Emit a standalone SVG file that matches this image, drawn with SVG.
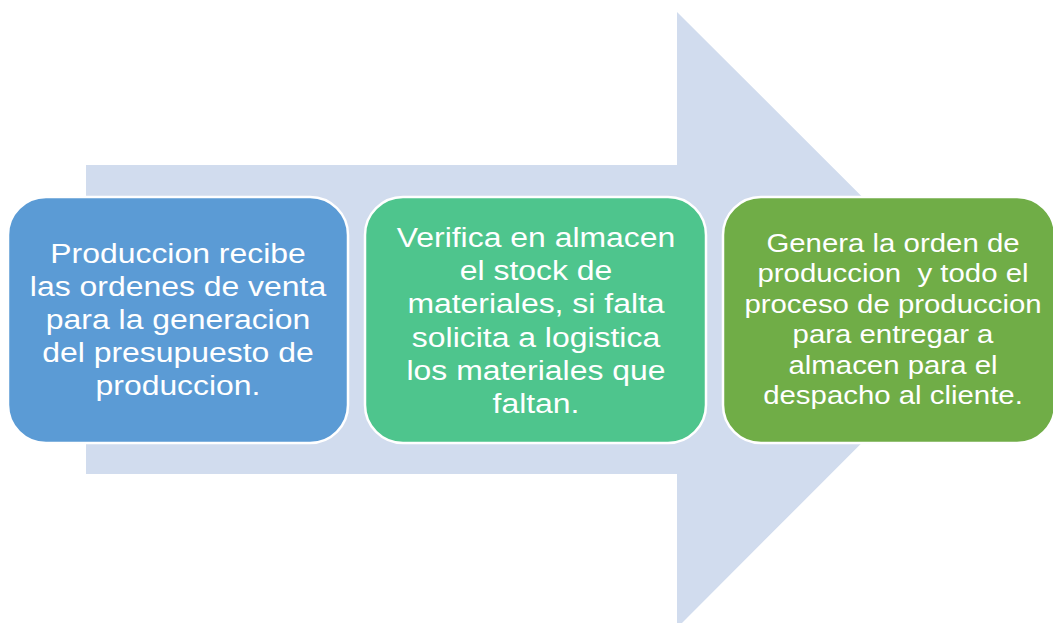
<svg xmlns="http://www.w3.org/2000/svg" width="1053" height="623" viewBox="0 0 1053 623">
<style>
.box{stroke:#ffffff;stroke-width:2.5}
.t{font-family:"Liberation Sans",Arial,sans-serif;font-size:28px;fill:#ffffff;text-anchor:middle}
.t3{font-size:26px}
</style>
<rect width="1053" height="623" fill="#ffffff"/>
<g id="arrow">
<polygon points="86,165 677,165 677,12 985,319.5 677,628 677,474 86,474" fill="#D1DCEE"/>
</g>
<g id="node1">
<rect class="box" x="8" y="197" width="340" height="246" rx="38" fill="#5B9BD5"/>
<g transform="translate(178 0) scale(1.14 1)">
<text class="t" x="0" y="263">Produccion recibe</text>
<text class="t" x="0" y="296">las ordenes de venta</text>
<text class="t" x="0" y="329">para la generacion</text>
<text class="t" x="0" y="362">del presupuesto de</text>
<text class="t" x="0" y="395">produccion.</text>
</g>
</g>
<g id="node2">
<rect class="box" x="365" y="197" width="341" height="246" rx="38" fill="#4EC58D"/>
<g transform="translate(536 0) scale(1.14 1)">
<text class="t" x="0" y="247">Verifica en almacen</text>
<text class="t" x="0" y="280">el stock de</text>
<text class="t" x="0" y="313">materiales, si falta</text>
<text class="t" x="0" y="347">solicita a logistica</text>
<text class="t" x="0" y="380">los materiales que</text>
<text class="t" x="0" y="413">faltan.</text>
</g>
</g>
<g id="node3">
<rect class="box" x="723" y="197" width="332" height="246" rx="38" fill="#70AD47"/>
<g transform="translate(893 0) scale(1.13 1)">
<text class="t t3" x="0" y="252">Genera la orden de</text>
<text class="t t3" x="0" y="282.5" xml:space="preserve" style="white-space:pre">produccion  y todo el</text>
<text class="t t3" x="0" y="313">proceso de produccion</text>
<text class="t t3" x="0" y="343.5">para entregar a</text>
<text class="t t3" x="0" y="374">almacen para el</text>
<text class="t t3" x="0" y="404.5">despacho al cliente.</text>
</g>
</g>
<g id="connectors"></g>
</svg>
